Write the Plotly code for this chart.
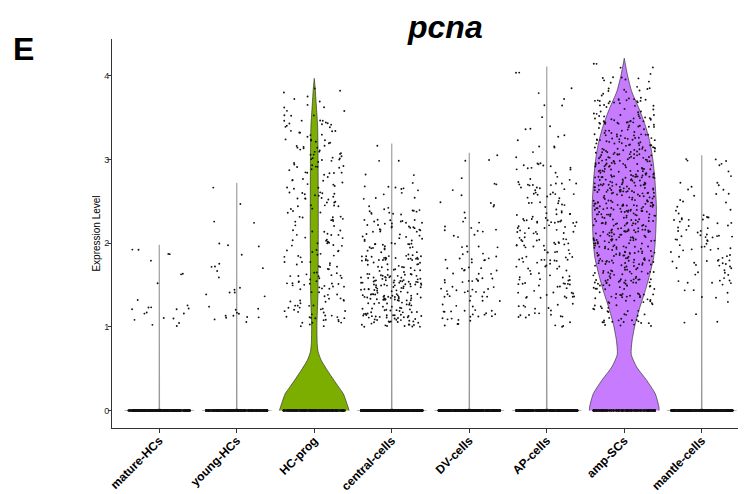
import math
import plotly.graph_objects as go

# ---------------- data ----------------
categories = ["mature-HCs", "young-HCs", "HC-prog", "central-cells",
              "DV-cells", "AP-cells", "amp-SCs", "mantle-cells"]
colors = ["#F8766D", "#CD9600", "#7CAE00", "#00BE67",
          "#00BFC4", "#00A9FF", "#C77CFF", "#FF61CC"]
max_expr = [1.98, 2.72, 3.97, 3.19, 3.08, 4.11, 4.21, 3.05]
zero_counts = [400, 350, 300, 600, 500, 450, 250, 400]

# counts of non-zero cells in expression bins of width 0.25, starting at 1.0
bin_lows = [1.0, 1.25, 1.5, 1.75, 2.0, 2.25, 2.5, 2.75, 3.0, 3.25, 3.5, 3.75, 4.0]
bin_width = 0.25
counts_mature = [14, 2, 3, 5, 0, 0, 0, 0, 0, 0, 0, 0, 0]
counts_young = [12, 6, 5, 5, 1, 2, 1, 0, 0, 0, 0, 0, 0]
counts_hcprog = [28, 25, 28, 20, 18, 22, 22, 24, 26, 20, 10, 4, 0]
counts_central = [60, 65, 60, 45, 30, 20, 12, 4, 1, 0, 0, 0, 0]
counts_dv = [22, 22, 20, 15, 10, 7, 4, 3, 1, 0, 0, 0, 0]
counts_ap = [18, 20, 25, 30, 30, 28, 25, 15, 6, 5, 4, 2, 2]
counts_amp = [30, 43, 53, 64, 71, 73, 73, 69, 62, 52, 36, 18, 5]
counts_mantle = [3, 6, 18, 22, 22, 16, 10, 6, 2, 0, 0, 0, 0]
bin_counts = [counts_mature, counts_young, counts_hcprog, counts_central,
              counts_dv, counts_ap, counts_amp, counts_mantle]

# violin half-width profiles (category units)
hcprog_levels = [0, 0.1, 0.2, 0.3, 0.4, 0.5, 0.6, 0.7, 0.8, 1.0, 1.4, 1.8,
                 2.2, 2.6, 3.0, 3.4, 3.65, 3.85, 3.97]
hcprog_widths = [0.45, 0.415, 0.375, 0.30, 0.226, 0.155, 0.09, 0.05, 0.038,
                 0.034, 0.047, 0.05, 0.052, 0.051, 0.049, 0.043, 0.026, 0.012, 0.0]
amp_levels = [0, 0.04, 0.2, 0.36, 0.52, 0.67, 0.83, 1.03, 1.23, 1.43, 1.63,
              1.83, 2.02, 2.22, 2.42, 2.62, 2.82, 3.02, 3.21, 3.41, 3.61,
              3.81, 4.01, 4.21]
amp_widths = [0.45, 0.448, 0.40, 0.29, 0.16, 0.09, 0.10, 0.14, 0.20, 0.27,
              0.33, 0.38, 0.40, 0.41, 0.415, 0.405, 0.39, 0.366, 0.33, 0.27,
              0.19, 0.097, 0.041, 0.0]
flat_levels_low = [0, 0.008, 0.03]
flat_widths = [0.45, 0.02, 0.004, 0.003, 0.0]

y_ticks = [0, 1, 2, 3, 4]


def scramble(k, salt):
    """deterministic, evenly-scattered fraction in [0, 1) for jitter placement"""
    v = math.sin(k * 12.9898 + salt * 78.233) * 43758.5453
    return v - math.floor(v)


fig = go.Figure()

# violins
for ci, cat in enumerate(categories):
    pos = ci + 1
    if cat == "HC-prog":
        lv, wd, shape = hcprog_levels, hcprog_widths, "spline"
        lc, lw, fc = "#333333", 0.7, colors[ci]
    elif cat == "amp-SCs":
        lv, wd, shape = amp_levels, amp_widths, "spline"
        lc, lw, fc = "#333333", 0.7, colors[ci]
    else:
        lv = flat_levels_low + [max_expr[ci] - 0.01, max_expr[ci]]
        wd = flat_widths
        shape = "linear"
        lc, lw, fc = "#8a8a8a", 0.6, "#8a8a8a"
    xs = [pos - w for w in wd] + [pos + w for w in reversed(wd)]
    ys = list(lv) + list(reversed(lv))
    fig.add_trace(go.Scatter(
        x=xs, y=ys, mode="lines", fill="toself", fillcolor=fc,
        line=dict(color=lc, width=lw, shape=shape, smoothing=0.6),
        hoverinfo="skip", showlegend=False))

# jittered points
px, py = [], []
for ci, cat in enumerate(categories):
    pos = ci + 1
    k = 1 + ci * 5000
    for m in range(zero_counts[ci]):
        px.append(pos + (scramble(k, 1) - 0.5) * 0.8)
        py.append(0.0)
        k += 1
    for bi, n in enumerate(bin_counts[ci]):
        lo = bin_lows[bi]
        hi = min(lo + bin_width, max_expr[ci])
        for m in range(n):
            px.append(pos + (scramble(k, 1) - 0.5) * 0.8)
            py.append(lo + scramble(k, 2) * (hi - lo))
            k += 1
fig.add_trace(go.Scatter(
    x=px, y=py, mode="markers",
    marker=dict(size=1.9, color="#111111", line=dict(width=0)),
    hoverinfo="skip", showlegend=False))

font_family = "Liberation Sans, Arial, Helvetica, sans-serif"
fig.update_layout(
    width=746, height=494,
    margin=dict(l=104, r=0, t=31, b=74),
    paper_bgcolor="white", plot_bgcolor="white",
    font=dict(family=font_family, color="black"),
    xaxis=dict(range=[0.39, 8.674], tickmode="array",
               tickvals=list(range(1, len(categories) + 1)),
               ticktext=categories, tickangle=-45, automargin=False,
               tickfont=dict(size=12, color="black", weight="bold"),
               ticks="outside", ticklen=4, tickcolor="#333333",
               ticklabelstandoff=-4,
               showline=True, linecolor="#333333", linewidth=1,
               showgrid=False, zeroline=False),
    yaxis=dict(range=[-0.209, 4.44], tickmode="array", tickvals=y_ticks,
               ticktext=[str(t) for t in y_ticks], automargin=False,
               tickfont=dict(size=9, color="#222222"),
               ticks="outside", ticklen=3, tickcolor="#333333",
               ticklabelstandoff=-3,
               showline=True, linecolor="#333333", linewidth=1,
               showgrid=False, zeroline=False,
               title=dict(text="Expression Level", font=dict(size=10),
                          standoff=1)),
    annotations=[
        dict(text="pcna", xref="paper", yref="paper", x=0.5187, y=1.032,
             xanchor="center", yanchor="middle", showarrow=False,
             font=dict(size=32, weight="bold", style="italic", color="black")),
        dict(text="E", xref="paper", yref="paper", x=-0.157, y=0.974,
             xanchor="left", yanchor="middle", showarrow=False,
             font=dict(size=32, weight="bold", color="black")),
    ],
)

fig.write_html("out.html")
